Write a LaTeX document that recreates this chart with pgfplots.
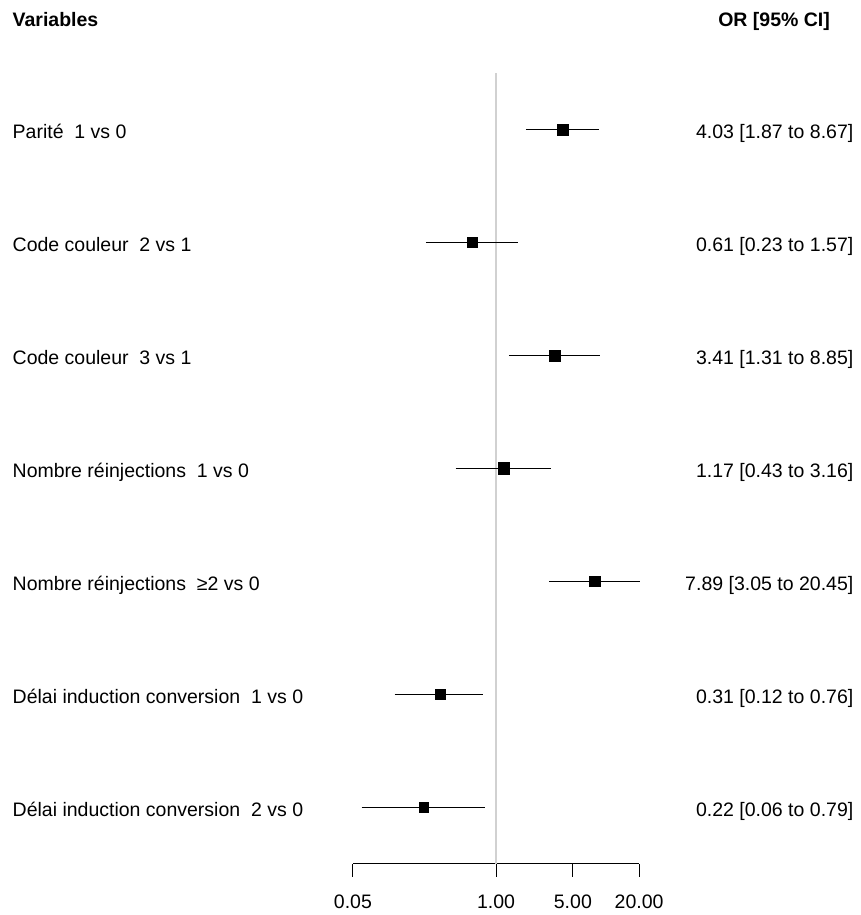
\documentclass[border=0pt]{standalone}
\usepackage{fontspec}
\setmainfont{Liberation Sans}
\usepackage{pgfplots}
\pgfplotsset{compat=1.18}
\usepackage{pgfplotstable}

\pgfplotstableread{
row or lo hi ms
7 4.03 1.87 8.67 5.6
6 0.61 0.23 1.57 5.2
5 3.41 1.31 8.85 5.4
4 1.17 0.43 3.16 5.6
3 7.89 3.05 20.45 5.3
2 0.31 0.12 0.76 5.3
1 0.22 0.06 0.79 4.8
}\ortable

\newcommand{\fs}{\fontsize{19.5}{23}\selectfont}

\begin{document}
\begin{tikzpicture}
\begin{axis}[
  xmode=log, scale only axis, width=286.2pt, height=790.6pt,
  xmin=0.05, xmax=20, ymin=0.5, ymax=7.5,
  axis x line*=bottom, axis y line=none,
  xtick={0.05,1,5,20}, xticklabels={0.05,1.00,5.00,20.00},
  xminorticks=false,
  tick align=outside, major tick length=13pt,
  x axis line style={line width=1pt, black, -},
  xtick style={line width=1pt, black},
  xticklabel style={font=\fs, anchor=base, inner sep=0pt, yshift=-32pt},
  clip=false,
]
% reference line at 1
\addplot[color=black!18, line width=1.3pt] coordinates {(1,0.5) (1,7.5)};
% confidence intervals
\addplot[black, line width=1.2pt] coordinates {(1.87,7) (8.67,7)};
\addplot[black, line width=1.2pt] coordinates {(0.23,6) (1.57,6)};
\addplot[black, line width=1.2pt] coordinates {(1.31,5) (8.85,5)};
\addplot[black, line width=1.2pt] coordinates {(0.43,4) (3.16,4)};
\addplot[black, line width=1.2pt] coordinates {(3.05,3) (20.45,3)};
\addplot[black, line width=1.2pt] coordinates {(0.12,2) (0.76,2)};
\addplot[black, line width=1.2pt] coordinates {(0.06,1) (0.79,1)};
% point estimates
\addplot[scatter, only marks, mark=square*,
  scatter/use mapped color={draw=black, fill=black},
  visualization depends on={\thisrow{ms}\as\msize},
  scatter/@pre marker code/.append style={/tikz/mark size=\msize pt}]
  table[x=or, y=row]{\ortable};

% headers
\node[anchor=base west, inner sep=0pt, font=\fs\bfseries] at ([xshift=-340.4pt, yshift=46pt]axis cs:0.05,7.5) {Variables};
\node[anchor=base east, inner sep=0pt, font=\fs\bfseries] at ([xshift=191pt, yshift=46pt]axis cs:20,7.5) {OR [95\% CI]};

% row labels
\node[anchor=base west, inner sep=0pt, font=\fs] at ([xshift=-340.4pt, yshift=-9pt]axis cs:0.05,7) {Parité~ 1 vs 0};
\node[anchor=base west, inner sep=0pt, font=\fs] at ([xshift=-340.4pt, yshift=-9pt]axis cs:0.05,6) {Code couleur~ 2 vs 1};
\node[anchor=base west, inner sep=0pt, font=\fs] at ([xshift=-340.4pt, yshift=-9pt]axis cs:0.05,5) {Code couleur~ 3 vs 1};
\node[anchor=base west, inner sep=0pt, font=\fs] at ([xshift=-340.4pt, yshift=-9pt]axis cs:0.05,4) {Nombre réinjections~ 1 vs 0};
\node[anchor=base west, inner sep=0pt, font=\fs] at ([xshift=-340.4pt, yshift=-9pt]axis cs:0.05,3) {Nombre réinjections~ ≥2 vs 0};
\node[anchor=base west, inner sep=0pt, font=\fs] at ([xshift=-340.4pt, yshift=-9pt]axis cs:0.05,2) {Délai induction conversion~ 1 vs 0};
\node[anchor=base west, inner sep=0pt, font=\fs] at ([xshift=-340.4pt, yshift=-9pt]axis cs:0.05,1) {Délai induction conversion~ 2 vs 0};

% values
\node[anchor=base east, inner sep=0pt, font=\fs] at ([xshift=214.4pt, yshift=-9pt]axis cs:20,7) {4.03 [1.87 to 8.67]};
\node[anchor=base east, inner sep=0pt, font=\fs] at ([xshift=214.4pt, yshift=-9pt]axis cs:20,6) {0.61 [0.23 to 1.57]};
\node[anchor=base east, inner sep=0pt, font=\fs] at ([xshift=214.4pt, yshift=-9pt]axis cs:20,5) {3.41 [1.31 to 8.85]};
\node[anchor=base east, inner sep=0pt, font=\fs] at ([xshift=214.4pt, yshift=-9pt]axis cs:20,4) {1.17 [0.43 to 3.16]};
\node[anchor=base east, inner sep=0pt, font=\fs] at ([xshift=214.4pt, yshift=-9pt]axis cs:20,3) {7.89 [3.05 to 20.45]};
\node[anchor=base east, inner sep=0pt, font=\fs] at ([xshift=214.4pt, yshift=-9pt]axis cs:20,2) {0.31 [0.12 to 0.76]};
\node[anchor=base east, inner sep=0pt, font=\fs] at ([xshift=214.4pt, yshift=-9pt]axis cs:20,1) {0.22 [0.06 to 0.79]};
\end{axis}
\pgfresetboundingbox
\path[use as bounding box] ([xshift=-352.9pt,yshift=-51.4pt]current axis.south west) rectangle ([xshift=220.9pt,yshift=73pt]current axis.north east);
\end{tikzpicture}
\end{document}
